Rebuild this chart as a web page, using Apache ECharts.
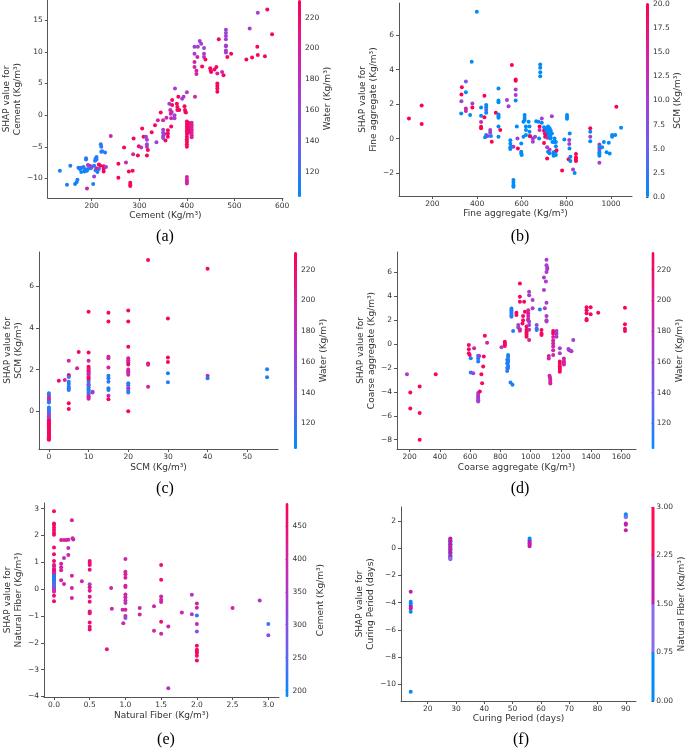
<!DOCTYPE html>
<html>
<head>
<meta charset="utf-8">
<script src="https://cdn.jsdelivr.net/npm/echarts@6/dist/echarts.min.js"></script>
<style>
  html, body { margin: 0; padding: 0; background: #fff; }
  #chart { width: 685px; height: 749px; }
</style>
</head>
<body>
<div id="chart"></div>
<script>
// [feature value, SHAP value, colour feature value]
const cementPts = [
  [133,-8.8,110],[148,-11.0,112],[155,-8.0,115],[165,-10.9,112],[168,-10.6,110],[170,-10.2,112],[172,-8.3,115],[175,-8.5,112],
  [178,-9.0,110],[180,-8.3,112],[183,-8.2,118],[186,-8.6,112],[188,-6.8,115],[188,-7.0,112],[190,-8.8,110],[192,-8.5,112],
  [195,-8.0,118],[200,-8.2,115],[203,-10.9,112],[205,-8.0,110],[207,-7.2,112],[208,-6.9,115],[210,-6.6,112],[210,-7.0,118],
  [212,-9.0,112],[215,-8.5,115],[219,-4.6,118],[220,-5.0,115],[220,-5.8,112],[222,-5.7,115],[228,-5.9,118],[208,-8.7,112],
  [198,-8.4,115],[185,-8.9,112],[176,-8.3,110],
  [190,-11.6,195],[192,-7.9,175],[198,-8.1,170],[205,-9.7,165],[215,-7.8,225],[218,-8.0,225],[225,-8.1,225],[225,-8.5,225],
  [225,-8.9,225],[230,-8.2,170],[210,-8.4,190],
  [240,-3.3,190],[256,-7.7,225],[256,-9.9,225],[268,-5.1,225],[272,-7.5,190],[278,-8.9,225],[281,-10.7,225],[281,-11.0,225],
  [281,-11.2,225],[286,-8.8,225],[288,-3.7,225],[287,-6.2,195],[297,-6.4,225],[299,-4.9,225],[304,-5.1,170],[306,-2.1,225],
  [309,-3.4,225],[314,-3.4,170],[316,-3.9,165],[316,-4.6,165],[316,-5.0,170],[318,-5.5,225],[316,-6.4,225],[326,-2.7,225],
  [333,-1.6,225],[336,-4.3,165],[339,-0.8,195],[345,0.4,225],[350,-0.8,195],[350,-2.3,165],[350,-2.8,160],[350,-3.3,165],
  [350,-3.6,160],[353,-3.0,165],[355,-4.0,225],[357,-0.4,195],[360,-2.4,225],[360,-2.9,225],[360,-3.4,225],[363,1.8,165],
  [365,0.8,190],[366,0.2,190],[367,-0.5,195],[367,-1.8,225],[368,0.5,190],[369,2.4,225],[369,1.6,225],[374,0.0,165],
  [374,-0.5,165],[375,4.2,170],[379,1.8,225],[380,1.3,225],[380,0.8,225],[382,2.9,225],[384,0.8,225],[390,2.6,170],
  [393,2.9,170],[395,1.4,225],[396,0.8,225],[397,0.5,225],[398,0.4,225],[400,3.6,170],
  [400,-1.0,225],[400,-1.4,225],[400,-1.8,225],[400,-2.2,225],[400,-2.6,225],[400,-3.0,225],[400,-3.4,225],[400,-3.8,225],
  [400,-4.2,225],[400,-4.6,225],[400,-5.0,225],[400,-9.8,195],[400,-10.2,195],[400,-10.5,195],[400,-10.8,195],
  [403,-1.2,225],[403,-1.6,225],[403,-2.0,225],[403,-2.4,225],[403,-2.8,225],
  [410,-1.2,200],[410,-1.6,200],[410,-2.0,200],[410,-2.4,200],[410,-2.8,200],[410,-3.2,200],[410,-3.5,200],
  [416,10.8,165],[416,9.7,170],[416,8.4,195],[416,7.6,195],[417,2.9,195],[420,7.0,195],[420,6.5,195],[423,10.8,165],
  [422,9.2,195],[427,11.7,165],[430,11.3,170],[432,7.7,225],[436,10.6,165],[436,9.7,165],[436,9.2,170],[439,8.8,225],
  [449,7.4,225],[450,7.0,225],[451,6.8,225],[458,7.2,225],[462,7.6,225],[464,6.6,195],[464,5.0,225],[464,4.6,225],
  [464,4.2,225],[464,3.7,225],[467,12.0,225],[474,6.8,195],[477,6.3,225],
  [482,13.5,165],[482,13.0,165],[482,12.5,165],[482,12.0,165],[482,11.0,165],[482,10.9,170],[482,10.2,170],[482,9.9,165],
  [485,9.2,225],[493,9.7,225],[525,8.8,225],[537,9.1,225],[548,10.8,225],[549,9.5,225],[549,16.2,165],[532,13.7,170],
  [569,16.7,225],[564,9.3,225],[579,12.8,225]
];

const fineAggPts = [
  [95,1.17,20],[152,1.92,20],[152,0.84,20],[332,2.97,20],[330,2.56,20],[330,2.17,10],[329,1.46,0],[350,3.31,6],[350,2.68,0],
  [350,1.75,14],[350,1.6,14],[369,1.36,0],[379,2.04,10],[379,1.8,20],[376,4.45,0],[399,7.35,0],[418,1.8,0],[418,1.32,0],
  [418,0.96,14],[418,0.69,20],[418,0.6,20],[433,2.48,20],[433,1.23,20],[436,0.07,0],[441,1.94,0],[441,1.8,0],[441,1.65,5],
  [441,1.5,0],[441,0.2,0],[448,0.15,10],[459,0.5,10],[459,0.35,10],[462,0.15,0],[466,-0.18,20],[484,1.5,20],[496,2.9,0],
  [496,2.2,0],[496,2.1,0],[496,1.4,0],[496,1.3,0],[496,1.2,0],[496,0.7,0],[496,0.1,0],[504,0.5,20],[534,2.23,10],[541,1.88,10],
  [549,-0.1,0],[549,-0.3,0],[549,-0.5,0],[549,-0.6,0],[553,-0.47,0],[563,-0.47,10],[563,-2.4,0],[563,-2.55,0],[563,-2.7,0],
  [563,-2.8,0],[556,4.26,20],[573,3.43,20],[573,3.35,20],[573,2.85,10],[573,2.52,10],[573,2.2,0],[578,0.7,0],[581,0.0,10],
  [583,-0.57,20],[598,-0.28,0],[598,-0.76,0],[598,-0.86,0],[600,-0.95,0],[608,0.97,0],[608,0.1,0],[613,1.36,0],[613,1.2,0],
  [613,1.07,0],[619,0.7,0],[619,0.5,0],[619,0.2,0],[631,0.97,0],[635,0.7,0],[635,0.4,0],[635,0.15,0],[638,0.14,20],
  [650,0.0,10],[650,-0.18,10],[665,1.0,0],[660,0.1,10],[675,0.97,0],[678,0.0,0],[683,4.3,0],[683,4.1,0],[683,3.85,0],
  [683,3.62,0],[680,0.7,20],[680,0.5,14],[690,1.17,10],[690,0.92,0],
  [700,0.65,0],[700,0.45,20],[703,0.3,14],[705,0.1,20],[708,0.6,0],[710,0.25,20],[712,0.45,0],[715,0.05,14],[718,0.7,0],
  [720,0.5,0],[720,0.3,0],[722,0.15,0],[725,0.6,0],[725,0.4,0],[728,0.2,0],[730,0.45,0],[730,0.05,0],[700,-0.25,20],
  [714,-0.5,10],[714,-1.15,20],[718,-0.76,0],[725,-0.85,0],[725,-0.65,10],[728,0.0,0],[735,1.3,10],[735,0.3,0],[738,-0.2,0],
  [743,-0.8,0],[743,-0.9,0],[743,-1.0,0],[747,0.0,0],[747,-0.2,0],[753,-0.2,0],[753,-0.45,0],[753,-0.75,0],[753,-0.95,0],
  [756,-0.68,20],[781,-1.85,20],[791,-0.05,0],[803,1.36,0],[803,1.25,0],[803,1.15,0],[813,-0.08,10],[813,-0.32,10],
  [810,-1.2,20],[814,-0.57,0],[818,-1.05,0],[818,-1.3,0],[815,0.3,0],[830,-1.79,10],[837,-2.0,0],[843,-0.9,20],
  [843,-1.1,20],[843,-1.2,20],[843,-1.3,20],
  [907,0.6,20],[907,0.4,0],[907,0.1,10],[907,-0.15,0],[948,-0.35,10],[948,-0.5,0],[948,-0.65,10],[948,-0.8,0],[948,-0.9,0],
  [948,-1.0,0],[948,-1.4,10],[960,-0.5,0],[968,-0.2,0],[980,-0.8,0],[990,-0.24,0],[994,-0.86,0],[1005,0.2,0],[1005,0.1,0],
  [1019,0.2,0],[1024,1.85,20],[1045,0.63,0]
];

const scmPts = [
  [0,0.86,112],[0,0.78,115],[0,0.55,112],[0,0.48,112],[0,0.42,118],[0,0.18,115],[0,0.1,112],[0,0.02,118],[0,-0.05,125],
  [0,-0.12,130],[0,0.68,195],[0,0.6,190],[0,-0.18,160],[0,-0.25,165],[0,-0.32,170],[0,-0.4,180],
  [0,-0.45,225],[0,-0.5,225],[0,-0.55,225],[0,-0.6,225],[0,-0.65,225],[0,-0.7,225],[0,-0.75,225],[0,-0.8,225],[0,-0.85,225],
  [0,-0.9,225],[0,-0.95,225],[0,-1.0,225],[0,-1.05,225],[0,-1.1,225],[0,-1.15,225],[0,-1.2,225],[0,-1.25,225],[0,-1.3,225],
  [0,-1.35,225],[0,-1.38,225],
  [2.5,1.46,225],[4,1.5,195],[5,2.43,195],[5,1.74,195],[5,1.7,225],[5,1.65,120],[5,1.42,115],[5,1.31,112],[5,1.18,115],
  [5,1.1,112],[5,1.02,118],[5,0.38,225],[5,0.1,225],[7.1,2.06,195],[7.5,2.85,225],
  [10,4.78,225],[10,2.82,225],[10,2.43,195],[10,2.14,225],[10,2.05,225],[10,1.97,195],[10,1.9,225],[10,1.82,195],
  [10,1.75,190],[10,1.66,195],[10,1.58,225],[10,1.5,225],[10,1.4,115],[10,1.3,120],[10,1.25,170],[10,1.15,115],
  [10,1.05,112],[10,0.98,115],[10,0.9,112],[10,0.82,118],[10,0.72,195],[10,0.65,200],[10,0.6,195],
  [11,0.94,165],[11,0.9,170],
  [15,4.74,225],[15,4.32,225],[15,2.62,195],[15,2.55,190],[15,2.1,195],[15,1.7,115],[15,1.58,112],[15,1.42,118],
  [15,1.1,112],[15,1.02,115],[15,0.74,195],[15,0.58,225],
  [20,4.85,225],[20,4.32,225],[20,3.1,225],[20,2.55,195],[20,2.45,195],[20,2.35,200],[20,2.25,225],[20,2.0,190],
  [20,1.92,195],[20,1.85,190],[20,1.75,195],[20,1.34,112],[20,1.25,115],[20,1.1,195],[20,0.98,112],[20,0.9,118],[20,0.0,225],
  [25,7.28,225],[25,2.3,225],[25,2.24,195],[25,1.18,195],[30,4.46,225],[30,2.58,225],[30,2.37,225],[30,1.82,112],
  [30,1.39,115],[40,6.85,225],[40,1.71,195],[40,1.58,112],[55,2.02,112],[55,1.63,112]
];

const coarseAggPts = [
  [182,-2.52,170],[204,-4.05,225],[204,-5.38,225],[266,-3.55,225],[266,-5.77,225],[266,-8.0,225],[372,-2.52,225],
  [591,-0.07,225],[591,-0.43,225],[591,-0.76,225],[597,-0.9,225],[604,-1.18,112],[604,-2.38,112],[620,-2.44,170],
  [626,-0.35,195],[653,-0.96,112],[653,-1.2,112],[653,-1.46,115],[653,-4.1,170],[653,-4.25,170],[653,-4.4,175],
  [653,-4.55,170],[653,-4.7,165],[653,-4.8,170],[660,-1.0,165],[664,-3.97,225],[674,-2.52,225],[679,-3.27,225],
  [686,-1.88,225],[690,-1.04,225],[697,0.7,225],[712,0.12,195],[807,-0.26,170],[829,0.21,225],[829,0.1,225],
  [829,-0.02,225],[829,-0.15,225],
  [845,-1.3,112],[845,-1.6,112],[845,-2.0,112],[845,-2.25,115],[851,-0.9,112],[851,-1.05,112],[851,-1.3,115],
  [851,-1.5,112],[851,-1.8,112],[851,-2.0,118],[867,-3.2,112],[880,-3.4,112],[873,2.99,112],[873,2.85,112],
  [873,2.7,115],[873,2.55,112],[873,2.4,112],[873,2.3,118],[884,1.1,112],[906,2.63,225],[906,2.44,225],[918,1.6,170],
  [918,1.4,165],[929,5.08,225],[929,3.97,225],[929,3.55,225],[929,1.24,195],[929,1.13,195],[946,1.74,225],[950,2.0,225],
  [950,2.35,225],[957,3.55,225],[962,2.71,225],[973,1.47,225],[973,1.2,225],[973,1.0,225],[973,0.8,225],[973,0.63,225],
  [984,2.85,195],[984,2.6,200],[984,2.35,195],[984,2.1,200],[984,2.0,195],[990,4.39,170],[990,4.1,175],[990,1.88,170],
  [990,1.6,165],[990,1.2,195],[990,0.35,200],[1013,3.69,170],[1013,3.0,175],[1040,1.6,165],[1040,1.32,112],
  [1040,1.18,115],[1061,2.9,112],[1072,1.18,225],[1072,0.9,225],[1072,0.77,225],
  [1088,5.58,170],[1088,4.53,170],[1101,5.25,170],[1105,6.05,170],[1105,6.6,165],[1105,7.08,170],[1110,6.4,170],
  [1110,6.3,175],[1094,3.0,170],[1105,3.47,170],[1105,2.35,175],[1105,2.0,170],[1105,1.9,170],[1120,-1.0,195],
  [1120,-1.2,195],[1125,-2.65,195],[1128,-2.8,195],[1130,-2.95,195],[1130,-3.15,200],[1130,-3.3,195],
  [1149,1.1,225],[1149,0.9,225],[1149,0.6,200],[1149,0.3,195],[1149,0.05,195],[1149,-0.2,195],[1149,-0.5,195],
  [1149,-0.9,195],[1171,1.1,170],[1171,0.9,170],[1171,0.63,175],[1193,-0.35,170],[1193,-0.76,170],[1193,-1.45,225],
  [1193,-1.65,225],[1193,-1.85,225],[1193,-2.0,225],[1193,-2.15,225],[1193,-2.3,225],[1220,-1.2,195],[1220,-1.4,195],
  [1220,-1.55,195],[1220,-1.7,195],[1250,-0.4,170],[1255,-0.5,175],[1265,-0.55,170],[1270,-0.6,170],[1282,0.35,170],
  [1370,3.1,225],[1370,2.85,225],[1370,2.6,225],[1370,2.1,225],[1370,2.0,225],[1397,3.1,225],[1397,2.5,225],
  [1447,2.63,225],[1624,3.05,225],[1624,1.66,225],[1624,1.3,225],[1624,1.1,225]
];

const fiberPts = [
  [0,2.9,460],[0,2.45,460],[0,2.4,460],[0,2.3,460],[0,2.2,460],[0,2.1,460],[0,2.03,460],[0,1.55,460],[0,1.3,460],
  [0,1.05,460],[0,0.9,460],[0,0.75,460],[0,0.7,460],[0,0.65,460],[0,0.55,460],[0,0.45,460],[0,0.3,460],[0,0.2,460],
  [0,0.05,460],[0,-0.05,460],[0,-0.25,460],[0,-0.45,460],
  [0,0.85,400],[0,0.6,400],[0,0.35,390],[0,-0.1,380],[0,0.02,370],
  [0,0.5,215],[0,0.45,210],[0,0.4,205],[0,0.35,215],[0,0.28,220],[0,0.15,230],[0,0.1,250],
  [0.1,1.83,400],[0.1,0.95,410],[0.1,0.82,400],[0.1,0.7,400],[0.1,0.33,400],[0.14,1.83,400],[0.17,1.83,410],[0.14,1.16,370],
  [0.14,0.19,390],[0.2,1.84,400],[0.2,1.53,360],[0.2,1.27,390],[0.25,2.57,400],[0.26,1.9,400],[0.27,1.85,390],[0.25,0.5,400],
  [0.25,0.04,400],[0.25,-0.33,400],[0.39,0.29,390],
  [0.5,1.05,450],[0.5,0.97,450],[0.5,0.9,450],[0.5,0.72,450],[0.5,0.18,330],[0.5,0.07,440],[0.5,-0.06,430],[0.5,-0.28,440],
  [0.5,-0.47,450],[0.5,-0.83,450],[0.5,-0.9,440],[0.5,-1.24,450],[0.5,-1.4,440],[0.5,-1.5,450],
  [0.74,-2.24,440],[0.8,0.04,390],[0.81,-0.73,390],[0.96,-0.77,390],[0.97,-1.27,390],[1.0,1.12,400],[1.0,0.65,400],
  [1.0,0.55,410],[1.0,0.42,400],[1.0,0.13,420],[1.0,0.08,400],[1.0,-0.2,400],[1.0,-0.3,400],[1.0,-0.42,380],[1.0,-0.52,360],
  [1.0,-0.77,400],[1.0,-1.0,400],[1.0,-1.08,290],[1.2,-0.7,390],[1.2,-0.95,390],[1.4,-0.64,390],[1.4,-1.55,390],
  [1.5,0.9,450],[1.5,0.35,450],[1.5,-0.27,400],[1.5,-0.4,400],[1.5,-0.48,400],[1.5,-1.22,450],[1.5,-1.66,400],
  [1.6,-1.39,390],[1.6,-3.69,360],[1.79,-0.87,400],[1.93,-0.94,360],[1.93,-0.21,360],[2.0,-0.54,400],[2.0,-0.69,400],
  [2.0,-0.98,220],[2.0,-1.3,400],[2.0,-1.58,290],[2.0,-2.11,460],[2.0,-2.26,460],[2.0,-2.32,460],[2.0,-2.38,460],
  [2.0,-2.48,460],[2.0,-2.66,460],[2.5,-0.7,400],[2.88,-0.42,360],[3.0,-1.3,230],[3.0,-1.72,290]
];

const curingPts = [
  [14,-3.2,2],[14,-3.94,0],[14,-4.06,0],[14,-4.23,0],[14,-4.3,2],[14,-4.43,2],[14,-4.67,0],[14,-10.56,0],
  [28,0.7,0],[28,0.6,0],[28,0.5,0],[28,0.4,0],[28,0.3,0],[28,0.2,0],[28,0.1,0],[28,0.0,0],[28,-0.1,0],[28,-0.2,0],
  [28,-0.3,0],[28,-0.4,0],[28,-0.5,0],
  [28,0.72,2],[28,0.5,2],[28,0.3,2],[28,0.1,2],[28,-0.1,2],[28,-0.3,2],[28,-0.6,2],[28,-0.7,2],[28,-0.8,1],[28,-0.75,1],
  [56,0.72,0],[56,0.6,0],[56,0.48,2],[56,0.38,2],[56,0.28,2],[56,0.16,2],
  [90,2.52,0],[90,2.37,0],[90,2.3,1],[90,1.83,2],[90,1.75,2],[90,1.34,2]
];

// tick labels
const cementTicks = [200, 300, 400, 500, 600];
const cementShapTicks = [-10, -5, 0, 5, 10, 15];
const fineTicks = [200, 400, 600, 800, 1000];
const fineShapTicks = [-2, 0, 2, 4, 6];
const scmTicks = [0, 10, 20, 30, 40, 50];
const scmShapTicks = [0, 2, 4, 6];
const coarseTicks = [200, 400, 600, 800, 1000, 1200, 1400, 1600];
const coarseShapTicks = [-8, -6, -4, -2, 0, 2, 4, 6];
const fiberTicks = [0, 0.5, 1, 1.5, 2, 2.5, 3];
const fiberShapTicks = [-4, -3, -2, -1, 0, 1, 2, 3];
const curingTicks = [20, 30, 40, 50, 60, 70, 80, 90];
const curingShapTicks = [-10, -8, -6, -4, -2, 0, 2];
const waterBarTicks = [120, 140, 160, 180, 200, 220];
const scmBarTicks = [0, 2.5, 5, 7.5, 10, 12.5, 15, 17.5, 20];
const cementBarTicks = [200, 250, 300, 350, 400, 450];
const fiberBarTicks = [0, 0.75, 1.5, 2.25, 3];

const panels = [
  { data: cementPts, xTicks: cementTicks, yTicks: cementShapTicks, xRange: [107.5, 602], yRange: [-13.1, 18.2],
    xName: 'Cement (Kg/m³)', yName: 'SHAP value for\nCement (Kg/m³)',
    cTicks: waterBarTicks, cRange: [103.5, 231.5], cName: 'Water (Kg/m³)', caption: '(a)' },
  { data: fineAggPts, xTicks: fineTicks, yTicks: fineShapTicks, xRange: [50.5, 1094], yRange: [-3.33, 7.86],
    xName: 'Fine aggregate (Kg/m³)', yName: 'SHAP value for\nFine aggregate (Kg/m³)',
    cTicks: scmBarTicks, cRange: [0, 20], cName: 'SCM (Kg/m³)', cDec: 1, caption: '(b)' },
  { data: scmPts, xTicks: scmTicks, yTicks: scmShapTicks, xRange: [-2.5, 57.75], yRange: [-1.82, 7.66],
    xName: 'SCM (Kg/m³)', yName: 'SHAP value for\nSCM (Kg/m³)',
    cTicks: waterBarTicks, cRange: [103.3, 231.5], cName: 'Water (Kg/m³)', caption: '(c)' },
  { data: coarseAggPts, xTicks: coarseTicks, yTicks: coarseShapTicks, xRange: [116, 1697], yRange: [-8.78, 7.72],
    xName: 'Coarse aggregate (Kg/m³)', yName: 'SHAP value for\nCoarse aggregate (Kg/m³)',
    cTicks: waterBarTicks, cRange: [103.3, 231.5], cName: 'Water (Kg/m³)', caption: '(d)' },
  { data: fiberPts, xTicks: fiberTicks, yTicks: fiberShapTicks, xRange: [-0.14, 3.15], yRange: [-4.02, 3.21], xDec: 1,
    xName: 'Natural Fiber (Kg/m³)', yName: 'SHAP value for\nNatural Fiber (Kg/m³)',
    cTicks: cementBarTicks, cRange: [190.5, 484.5], cName: 'Cement (Kg/m³)', caption: '(e)' },
  { data: curingPts, xTicks: curingTicks, yTicks: curingShapTicks, xRange: [10.57, 93.6], yRange: [-11.25, 3.05],
    xName: 'Curing Period (days)', yName: 'SHAP value for\nCuring Period (days)',
    cTicks: fiberBarTicks, cRange: [0, 3], cName: 'Natural Fiber (Kg/m³)', cDec: 2, pieces: true, caption: '(f)' }
];

// layout: plot box [left, top, width, height], colour bar [left, top, height], name gaps, caption position
const layout = [
  { box: [45, 0, 238, 198],  bar: [298, 0, 197],     xGap: 13, yGap: 24, cGap: 20, cap: [165, 237] },
  { box: [399, 3, 233, 193], bar: [646, 3, 194],     xGap: 13, yGap: 18, cGap: 22, cap: [520, 237] },
  { box: [39, 252, 239, 197], bar: [294, 252, 197],  xGap: 14, yGap: 15, cGap: 20, cap: [165, 489] },
  { box: [397, 252, 239, 197], bar: [651.5, 252, 197], xGap: 14, yGap: 20, cGap: 20, cap: [520, 489] },
  { box: [44, 503, 235, 194], bar: [285.5, 503, 194], xGap: 14, yGap: 19, cGap: 28, cap: [166, 740] },
  { box: [401, 507, 235, 194], bar: [651.5, 507, 194], xGap: 13, yGap: 24, cGap: 22, cap: [521, 740] }
];

const cmap = ['#008bfb', '#6a5ff1', '#a53dd2', '#d91f9c', '#ff0051'];
const stepColors = ['#008bfb', '#8a6cee', '#c41ca6', '#ff0a55'];
const FONT = 'DejaVu Sans';
const axisColor = '#555';
const textColor = '#333';
const fmt = d => v => (d ? v.toFixed(d) : String(v)).replace('-', '\u2212');

const option = { animation: false, grid: [], xAxis: [], yAxis: [], series: [], visualMap: [], graphic: [] };

panels.forEach((p, i) => {
  const L = layout[i];
  option.grid.push({ left: L.box[0], top: L.box[1], width: L.box[2], height: L.box[3] });
  option.xAxis.push({
    type: 'value', gridIndex: i, min: p.xRange[0], max: p.xRange[1],
    name: p.xName, nameLocation: 'middle', nameGap: L.xGap,
    nameTextStyle: { fontFamily: FONT, fontSize: 9, color: textColor },
    axisLine: { onZero: false, lineStyle: { color: axisColor, width: 1 } },
    axisTick: { customValues: p.xTicks, length: 3, lineStyle: { color: axisColor } },
    axisLabel: { customValues: p.xTicks, formatter: fmt(p.xDec), fontFamily: FONT, fontSize: 7.5, color: textColor, margin: 4 },
    splitLine: { show: false }
  });
  option.yAxis.push({
    type: 'value', gridIndex: i, min: p.yRange[0], max: p.yRange[1],
    name: p.yName, nameLocation: 'middle', nameGap: L.yGap, nameRotate: 90,
    nameTextStyle: { fontFamily: FONT, fontSize: 9, color: textColor, lineHeight: 11 },
    axisLine: { show: true, onZero: false, lineStyle: { color: axisColor, width: 1 } },
    axisTick: { show: true, customValues: p.yTicks, length: 3, lineStyle: { color: axisColor } },
    axisLabel: { customValues: p.yTicks, formatter: fmt(0), fontFamily: FONT, fontSize: 7.5, color: textColor, margin: 5 },
    splitLine: { show: false }
  });
  option.series.push({
    type: 'scatter', xAxisIndex: i, yAxisIndex: i, data: p.data,
    symbolSize: 4, itemStyle: { opacity: 1 }, silent: true
  });
  const vm = {
    seriesIndex: i, dimension: 2, orient: 'vertical',
    left: L.bar[0], top: L.bar[1], padding: 0, itemWidth: 3, hoverLink: false
  };
  if (p.pieces) {
    const t = p.cTicks;
    Object.assign(vm, {
      type: 'piecewise', itemHeight: L.bar[2] / 4, itemGap: 0, itemSymbol: 'rect', showLabel: false, selectedMode: false,
      pieces: stepColors.map((c, k) => ({ min: t[k], max: t[k + 1], color: c }))
    });
  } else {
    Object.assign(vm, {
      type: 'continuous', min: p.cRange[0], max: p.cRange[1], itemHeight: L.bar[2], calculable: false,
      inRange: { color: cmap }
    });
  }
  option.visualMap.push(vm);
  option.graphic.push({
    type: 'text', x: L.cap[0], y: L.cap[1],
    style: { text: p.caption, font: '16px "Liberation Serif"', fill: '#000', align: 'center', verticalAlign: 'middle',
             textAlign: 'center', textVerticalAlign: 'middle' }
  });
});

// colour-bar tick axes
panels.forEach((p, i) => {
  const L = layout[i];
  const g = 6 + i;
  option.grid.push({ left: L.bar[0], top: L.bar[1], width: 3, height: L.bar[2] });
  option.xAxis.push({ type: 'value', gridIndex: g, show: false, min: 0, max: 1 });
  option.yAxis.push({
    type: 'value', gridIndex: g, position: 'right', min: p.cRange[0], max: p.cRange[1],
    name: p.cName, nameLocation: 'middle', nameGap: L.cGap, nameRotate: 90,
    nameTextStyle: { fontFamily: FONT, fontSize: 9, color: textColor },
    axisLine: { show: false },
    axisTick: { show: true, customValues: p.cTicks, length: 2.5, lineStyle: { color: axisColor } },
    axisLabel: { customValues: p.cTicks, formatter: fmt(p.cDec), fontFamily: FONT, fontSize: 7.5, color: textColor, margin: 4 },
    splitLine: { show: false }
  });
});

const chart = echarts.init(document.getElementById('chart'), null, { renderer: 'canvas' });
chart.setOption(option);
</script>
</body>
</html>
